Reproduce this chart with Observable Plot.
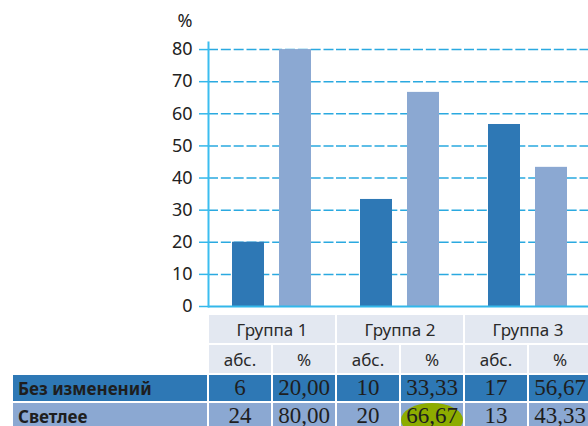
<!DOCTYPE html>
<html>
<head>
<meta charset="utf-8">
<script src="https://cdn.jsdelivr.net/npm/d3@7"></script>
<script src="https://cdn.jsdelivr.net/npm/@observablehq/plot@0.6"></script>
<style>
  html, body { margin: 0; padding: 0; background: #fff; overflow: hidden; }
  #wrap { position: relative; width: 592px; height: 426px; }
  #chart { position: absolute; left: 0; top: 0; }
  #table {
    position: absolute; left: 13px; top: 315px;
    display: grid;
    grid-template-columns: 194px repeat(6, 62px);
    grid-template-rows: 28px 28px 26px 26px;
    gap: 2px;
    font-family: "Noto Sans", sans-serif;
    color: #2a2a2a;
  }
  .hd { background: #e3e8f1; font-size: 17px; display: flex; align-items: center; justify-content: center; }
  .blank { background: #fff; }
  .lab { font-weight: bold; font-size: 17px; display: flex; align-items: center; padding-left: 5px; color: #1e1e1e; }
  .num { font-family: "Liberation Serif", serif; font-size: 23px; display: flex; align-items: center; justify-content: center; position: relative; overflow: hidden; color: #1e1e1e; }
  .num span { position: relative; z-index: 1; }
  .hl { position: absolute; left: 0; top: 0; width: 62px; height: 34px; border-radius: 50%; background: #8dac00; }
</style>
</head>
<body>
<div id="wrap">
  <div id="chart"></div>
  <div id="table"></div>
</div>
<script>
const groups = ["Группа 1", "Группа 2", "Группа 3"];
const series = ["Без изменений", "Светлее"];
const absNoChange = [6, 10, 17];
const absLighter = [24, 20, 13];
const pctNoChange = [20.00, 33.33, 56.67];
const pctLighter = [80.00, 66.67, 43.33];
const subHeaders = ["абс.", "%"];
const yTicks = [0, 10, 20, 30, 40, 50, 60, 70, 80];
const yLabel = "%";
const highlight = {series: "Светлее", group: "Группа 2"};

const colors = ["#2e78b5", "#8ba8d2"];
const absBySeries = [absNoChange, absLighter];
const pctBySeries = [pctNoChange, pctLighter];

const rows = groups.flatMap((g, i) => series.map((s, j) => ({group: g, series: s, value: pctBySeries[j][i]})));

const chart = Plot.plot({
  width: 592,
  height: 312,
  marginLeft: 207,
  marginRight: 0,
  marginTop: 42,
  marginBottom: 6,
  style: {fontFamily: "Noto Sans", fontSize: "18px", color: "#222", background: "transparent", overflow: "visible"},
  fx: {domain: groups, padding: 0, axis: null},
  x: {domain: series, paddingInner: 0.3125, paddingOuter: 0.49, axis: null},
  y: {domain: [0, 82.2], axis: null},
  color: {domain: series, range: colors},
  marks: [
    Plot.ruleY(yTicks.filter(d => d > 0), {stroke: "#2aa9e0", strokeWidth: 1.5, strokeDasharray: "10,2.8333"}),
    Plot.barY(rows, {fx: "group", x: "series", y: "value", fill: "series"}),
    Plot.ruleY([0], {stroke: "#33b7ea", strokeWidth: 2}),
    Plot.frame({anchor: "left", facet: "super", stroke: "#3bbdf0", strokeWidth: 2}),
    Plot.axisY(yTicks, {tickSize: 9, tickPadding: 7, stroke: "#33b7ea", strokeWidth: 1.5, fill: "#222", label: null}),
    Plot.text([yLabel], {facet: "super", frameAnchor: "top-left", textAnchor: "end", dx: -16, dy: -28, fill: "#222"})
  ]
});
document.getElementById("chart").append(chart);

const fmt = v => v.toFixed(2).replace(".", ",");
const table = document.getElementById("table");
function cell(cls, text, style) {
  const d = document.createElement("div");
  d.className = cls;
  if (text != null) d.textContent = text;
  if (style) Object.assign(d.style, style);
  table.append(d);
  return d;
}
cell("blank");
groups.forEach(g => cell("hd", g, {gridColumn: "span 2"}));
cell("blank");
groups.forEach(() => subHeaders.forEach(h => cell("hd", h)));
series.forEach((s, j) => {
  cell("lab", s, {background: colors[j]});
  groups.forEach((g, i) => {
    const a = cell("num", null, {background: colors[j]});
    const sa = document.createElement("span"); sa.textContent = absBySeries[j][i]; a.append(sa);
    const p = cell("num", null, {background: colors[j]});
    if (s === highlight.series && g === highlight.group) {
      const h = document.createElement("div"); h.className = "hl"; p.append(h);
    }
    const sp = document.createElement("span"); sp.textContent = fmt(pctBySeries[j][i]); p.append(sp);
  });
});
</script>
</body>
</html>
